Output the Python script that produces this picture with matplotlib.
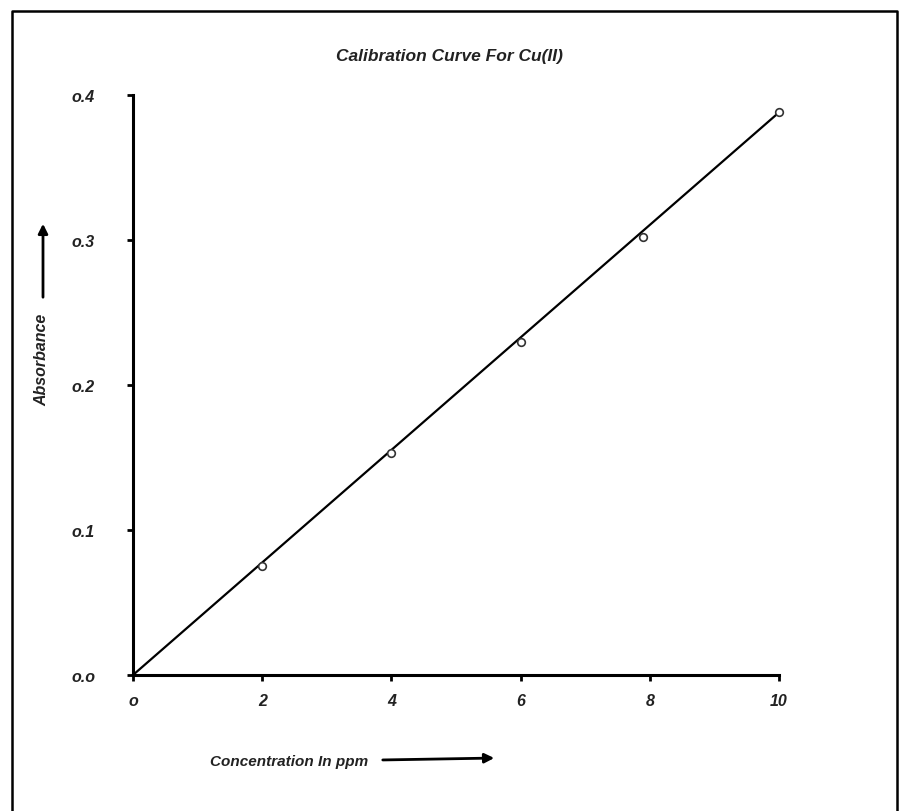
import matplotlib
matplotlib.use("Agg")
import matplotlib.pyplot as plt
from matplotlib.lines import Line2D

conc = [2, 4, 6, 7.9, 10]
absorb = [0.075, 0.153, 0.230, 0.302, 0.388]
fit_x = [0, 10]
fit_y = [0, 0.388]
xticks = [0, 2, 4, 6, 8, 10]
xtick_labels = ["o", "2", "4", "6", "8", "10"]
yticks = [0.0, 0.1, 0.2, 0.3, 0.4]
ytick_labels = ["o.o", "o.1", "o.2", "o.3", "o.4"]

plt.rcParams['font.family'] = ['Liberation Sans', 'DejaVu Sans']
fig = plt.figure(figsize=(9.01, 8.12), dpi=100)
ax = fig.add_axes([133/901, 1-676/812, (779-133)/901, (676-96)/812])

ax.plot(fit_x, fit_y, color='black', lw=1.6, zorder=2, clip_on=False)
ax.plot(conc, absorb, 'o', ms=5.5, mfc='white', mec='#333333', mew=1.2, zorder=3, clip_on=False)

ax.set_xlim(0, 10)
ax.set_ylim(0, 0.4)
for s in ['top', 'right']:
    ax.spines[s].set_visible(False)
for s in ['left', 'bottom']:
    ax.spines[s].set_linewidth(2.2)
ax.set_xticks(xticks)
ax.set_xticklabels(xtick_labels)
ax.set_yticks(yticks)
ax.set_yticklabels(ytick_labels)
ax.tick_params(axis='both', direction='out', length=4, width=2, labelsize=11.5, colors='black')
ax.tick_params(axis='x', pad=9)
ax.tick_params(axis='y', pad=40)
for lab in ax.get_xticklabels() + ax.get_yticklabels():
    lab.set_fontstyle('italic')
    lab.set_fontweight('bold')
    lab.set_color('#222222')
for lab in ax.get_yticklabels():
    lab.set_horizontalalignment('left')

fig.text(449/901, 1-57/812, "Calibration Curve For Cu(II)", ha='center', va='center',
         fontsize=12.5, fontstyle='italic', fontweight='bold', color='#222222')
fig.text(289/901, 1-762/812, "Concentration In ppm", ha='center', va='center',
         fontsize=11, fontstyle='italic', fontweight='bold', color='#222222')
fig.text(42/901, 1-360/812, "Absorbance", ha='center', va='center', rotation=90,
         fontsize=11.5, fontstyle='italic', fontweight='bold', color='#222222')

fig.patches.append(matplotlib.patches.FancyArrowPatch((380/901, 1-761/812), (497/901, 1-759/812),
    transform=fig.transFigure, arrowstyle='-|>', mutation_scale=14, lw=2, color='black'))
fig.patches.append(matplotlib.patches.FancyArrowPatch((43/901, 1-301/812), (43/901, 1-222/812),
    transform=fig.transFigure, arrowstyle='-|>', mutation_scale=14, lw=2, color='black'))

# page frame (left, top, right)
fig.add_artist(Line2D([12/901, 12/901, 897/901, 897/901], [0, 1-12/812, 1-12/812, 0],
                      transform=fig.transFigure, color='black', lw=1.8))

fig.savefig("out.png", dpi=100, facecolor='white')
